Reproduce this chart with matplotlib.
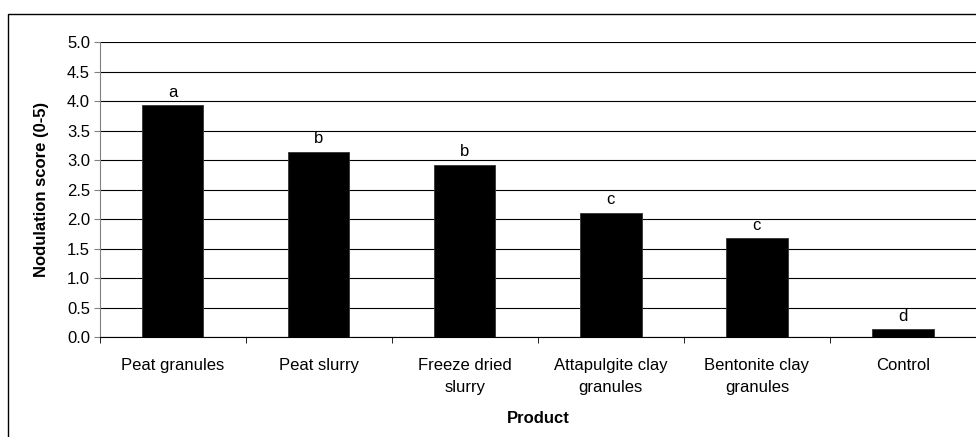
import numpy as np
import matplotlib.pyplot as plt
from matplotlib.patches import Rectangle

# Nodulation score by inoculant product

products = ["Peat granules", "Peat slurry", "Freeze dried\nslurry",
            "Attapulgite clay\ngranules", "Bentonite clay\ngranules", "Control"]
scores = [3.93, 3.14, 2.92, 2.11, 1.68, 0.14]
letters = ["a", "b", "b", "c", "c", "d"]

plt.rcParams['font.family'] = ['Liberation Sans', 'DejaVu Sans']

fig = plt.figure(figsize=(9.76, 4.37), dpi=100)
ax = fig.add_axes([0.1021, 0.2281, 0.8979, 0.6751])

x = np.arange(len(products))
ax.bar(x, scores, width=0.42, color="black", edgecolor="#333333", linewidth=0.6, zorder=3)

for i in range(len(products)):
    ax.annotate(letters[i], (x[i], scores[i]), xytext=(0, 4), textcoords="offset points",
                ha="center", va="bottom", fontsize=12)

ax.set_xlim(-0.5, len(products) - 0.5)
ax.set_ylim(0, 5)
ax.set_yticks(np.arange(0, 5.01, 0.5))
ax.set_yticklabels(["%.1f" % v for v in np.arange(0, 5.01, 0.5)], fontsize=12)
ax.yaxis.grid(True, color="black", linewidth=0.8)
ax.set_axisbelow(True)

# category labels between boundary ticks
ax.set_xticks(x)
ax.set_xticklabels(products, fontsize=12, linespacing=1.6)
ax.tick_params(axis="x", length=0, pad=15)
ax.set_xticks(np.arange(-0.5, len(products), 1.0), minor=True)
ax.tick_params(axis="x", which="minor", length=4, direction="out", color="black")
ax.tick_params(axis="y", length=4, direction="out", color="#808080", pad=3)

for s in ["top", "right"]:
    ax.spines[s].set_visible(False)
ax.spines["left"].set_color("#808080")
ax.spines["bottom"].set_color("black")

ax.set_xlabel("Product", fontsize=12, fontweight="bold", labelpad=11)
ax.set_ylabel("Nodulation score (0-5)", fontsize=12, fontweight="bold", labelpad=13)

# outer chart border
fig.patches.append(Rectangle((8 / 976, -0.2), 1.2, 1.2 - 14 / 437,
                             transform=fig.transFigure, fill=False,
                             edgecolor="black", linewidth=1.0))

fig.savefig("out.png", dpi=100)
